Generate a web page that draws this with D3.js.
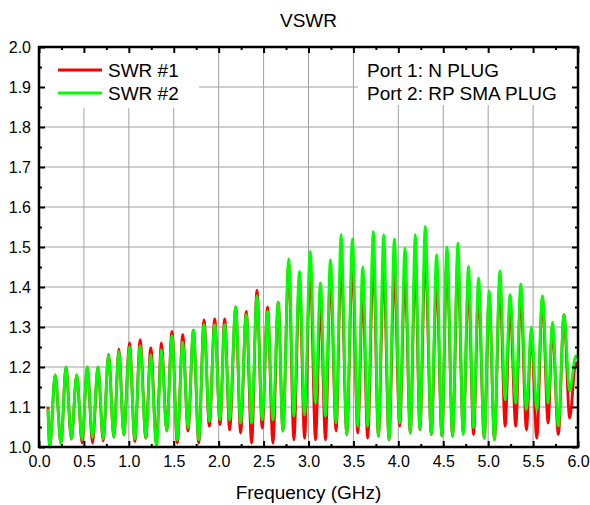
<!DOCTYPE html>
<html>
<head>
<meta charset="utf-8">
<script src="https://cdn.jsdelivr.net/npm/d3@7"></script>
<style>
  body { margin: 0; background: #fff; }
  text { font-family: "Liberation Sans", Arial, sans-serif; fill: #000; }
</style>
</head>
<body>
<svg id="canvas" width="590" height="505"></svg>
<script>
// extrema of the two traces (GHz)
const freqs = [
  0.10, 0.12, 0.18, 0.245, 0.30, 0.36, 0.42, 0.48, 0.537, 0.596,
  0.656, 0.715, 0.774, 0.833, 0.889, 0.944, 1.007, 1.067, 1.126, 1.189,
  1.244, 1.307, 1.363, 1.422, 1.48, 1.54, 1.60, 1.659, 1.719, 1.778,
  1.837, 1.896, 1.956, 2.015, 2.067, 2.122, 2.19, 2.244, 2.307, 2.367,
  2.426, 2.485, 2.544, 2.604, 2.663, 2.715, 2.78, 2.837, 2.90, 2.956,
  3.019, 3.078, 3.133, 3.189, 3.244, 3.307, 3.363, 3.426, 3.489, 3.548,
  3.604, 3.659, 3.722, 3.778, 3.837, 3.896, 3.956, 4.015, 4.074, 4.133,
  4.189, 4.24, 4.30, 4.367, 4.426, 4.485, 4.541, 4.604, 4.663, 4.722,
  4.781, 4.837, 4.893, 4.956, 5.011, 5.07, 5.13, 5.189, 5.244, 5.307,
  5.363, 5.426, 5.481, 5.541, 5.604, 5.667, 5.715, 5.781, 5.844, 5.907,
  5.975, 6.0
];
const swr1 = [
  1.10, 1.00, 1.18, 1.008, 1.20, 1.02, 1.18, 1.01, 1.20, 1.01,
  1.20, 1.015, 1.232, 1.024, 1.245, 1.03, 1.26, 1.014, 1.268, 1.022,
  1.248, 1.01, 1.26, 1.04, 1.289, 1.01, 1.281, 1.04, 1.292, 1.01,
  1.318, 1.052, 1.32, 1.056, 1.32, 1.043, 1.35, 1.035, 1.339, 1.01,
  1.392, 1.047, 1.35, 1.01, 1.362, 1.04, 1.46, 1.018, 1.422, 1.022,
  1.45, 1.018, 1.36, 1.018, 1.431, 1.04, 1.468, 1.031, 1.46, 1.035,
  1.389, 1.022, 1.47, 1.027, 1.451, 1.018, 1.439, 1.052, 1.431, 1.035,
  1.468, 1.043, 1.481, 1.031, 1.42, 1.027, 1.47, 1.027, 1.468, 1.035,
  1.41, 1.031, 1.389, 1.022, 1.377, 1.018, 1.41, 1.052, 1.352, 1.052,
  1.381, 1.043, 1.285, 1.022, 1.372, 1.06, 1.30, 1.031, 1.331, 1.072,
  1.21, 1.20
];
const swr2 = [
  1.095, 1.00, 1.18, 1.008, 1.20, 1.02, 1.18, 1.018, 1.20, 1.023,
  1.20, 1.02, 1.23, 1.024, 1.239, 1.03, 1.25, 1.02, 1.253, 1.022,
  1.231, 1.00, 1.243, 1.04, 1.278, 1.018, 1.262, 1.048, 1.292, 1.018,
  1.306, 1.064, 1.306, 1.068, 1.306, 1.068, 1.35, 1.06, 1.331, 1.06,
  1.378, 1.068, 1.339, 1.068, 1.362, 1.04, 1.47, 1.077, 1.439, 1.08,
  1.489, 1.11, 1.41, 1.077, 1.468, 1.06, 1.531, 1.031, 1.52, 1.052,
  1.45, 1.052, 1.539, 1.027, 1.531, 1.018, 1.52, 1.06, 1.498, 1.035,
  1.531, 1.043, 1.552, 1.031, 1.481, 1.027, 1.50, 1.027, 1.51, 1.031,
  1.452, 1.048, 1.423, 1.022, 1.39, 1.018, 1.44, 1.118, 1.381, 1.11,
  1.408, 1.093, 1.30, 1.093, 1.378, 1.11, 1.312, 1.052, 1.331, 1.139,
  1.228, 1.22
];
const seriesNames = ["SWR #1", "SWR #2"];
const seriesColors = ["#ff0000", "#00ff00"];
const notes = ["Port 1: N PLUG", "Port 2: RP SMA PLUG"];
const xMajor = d3.range(0, 6.001, 0.5);
const xMinor = d3.range(0.25, 6, 0.5);
const yMajor = d3.range(10, 21).map((d) => d / 10);
const yMinor = d3.range(10, 20).map((d) => d / 10 + 0.05);

const svg = d3.select("svg#canvas");
const margin = { top: 47, right: 12, bottom: 58, left: 39 };
const width = +svg.attr("width") - margin.left - margin.right;
const height = +svg.attr("height") - margin.top - margin.bottom;

const x = d3.scaleLinear().domain([0, 6]).range([0, width]);
const y = d3.scaleLinear().domain([1, 2]).range([height, 0]);

const g = svg.append("g").attr("transform", `translate(${margin.left},${margin.top})`);

// grid
g.append("g")
  .selectAll("line")
  .data(yMajor.slice(1, -1))
  .enter()
  .append("line")
  .attr("x1", 0)
  .attr("x2", width)
  .attr("y1", (d) => y(d))
  .attr("y2", (d) => y(d))
  .attr("stroke", "#a0a0a0")
  .attr("stroke-width", 1);
g.append("g")
  .selectAll("line")
  .data(xMajor.slice(1, -1))
  .enter()
  .append("line")
  .attr("x1", (d) => x(d))
  .attr("x2", (d) => x(d))
  .attr("y1", 0)
  .attr("y2", height)
  .attr("stroke", "#a0a0a0")
  .attr("stroke-width", 1);

// legend boxes hide the grid behind them
g.append("rect").attr("x", 1).attr("y", 1).attr("width", 159).attr("height", 60).attr("fill", "#fff");
g.append("rect").attr("x", 319).attr("y", 1).attr("width", width - 320).attr("height", 57).attr("fill", "#fff");

// traces
const line = (vals) =>
  d3
    .line()
    .x((d, i) => x(freqs[i]))
    .y((d) => y(d))
    .curve(d3.curveMonotoneX)(vals);

[swr1, swr2].forEach((vals, k) => {
  g.append("path")
    .attr("d", line(vals))
    .attr("fill", "none")
    .attr("stroke", seriesColors[k])
    .attr("stroke-width", 2.8)
    .attr("stroke-linejoin", "round");
});

// axes, ticks pointing inward
const fmt = d3.format(".1f");
const axBottom = g.append("g").attr("transform", `translate(0,${height})`);
axBottom.call(d3.axisBottom(x).tickValues(xMajor).tickSize(-6).tickPadding(9).tickFormat(fmt));
axBottom.append("g").call(d3.axisBottom(x).tickValues(xMinor).tickSize(-3).tickFormat(""));
const axLeft = g.append("g");
axLeft.call(d3.axisLeft(y).tickValues(yMajor).tickSize(-6).tickPadding(8).tickFormat(fmt));
axLeft.append("g").call(d3.axisLeft(y).tickValues(yMinor).tickSize(-3).tickFormat(""));
const axTop = g.append("g");
axTop.call(d3.axisTop(x).tickValues(xMajor).tickSize(-6).tickFormat(""));
axTop.append("g").call(d3.axisTop(x).tickValues(xMinor).tickSize(-3).tickFormat(""));
const axRight = g.append("g").attr("transform", `translate(${width},0)`);
axRight.call(d3.axisRight(y).tickValues(yMajor).tickSize(-6).tickFormat(""));
axRight.append("g").call(d3.axisRight(y).tickValues(yMinor).tickSize(-3).tickFormat(""));

g.selectAll(".domain").remove();
g.selectAll(".tick line").attr("stroke", "#000").attr("stroke-width", 2);
g.selectAll(".tick text").style("font-size", "16px").style("font-family", "Liberation Sans, Arial, sans-serif");

// frame
g.append("rect")
  .attr("width", width)
  .attr("height", height)
  .attr("fill", "none")
  .attr("stroke", "#000")
  .attr("stroke-width", 2.5);

// legend
seriesNames.forEach((name, k) => {
  const ly = 23 + k * 23;
  g.append("line")
    .attr("x1", 19)
    .attr("x2", 63)
    .attr("y1", ly)
    .attr("y2", ly)
    .attr("stroke", seriesColors[k])
    .attr("stroke-width", 2.8);
  g.append("text")
    .attr("x", 69)
    .attr("y", ly)
    .attr("dy", "0.35em")
    .style("font-size", "19px")
    .text(name);
});
notes.forEach((t, k) => {
  g.append("text")
    .attr("x", 328)
    .attr("y", 23 + k * 23)
    .attr("dy", "0.35em")
    .style("font-size", "19px")
    .text(t);
});

// titles
svg.append("text")
  .attr("x", margin.left + width / 2)
  .attr("y", 27)
  .attr("text-anchor", "middle")
  .style("font-size", "19px")
  .text("VSWR");
svg.append("text")
  .attr("x", margin.left + width / 2)
  .attr("y", 499)
  .attr("text-anchor", "middle")
  .style("font-size", "19px")
  .text("Frequency (GHz)");
</script>
</body>
</html>
